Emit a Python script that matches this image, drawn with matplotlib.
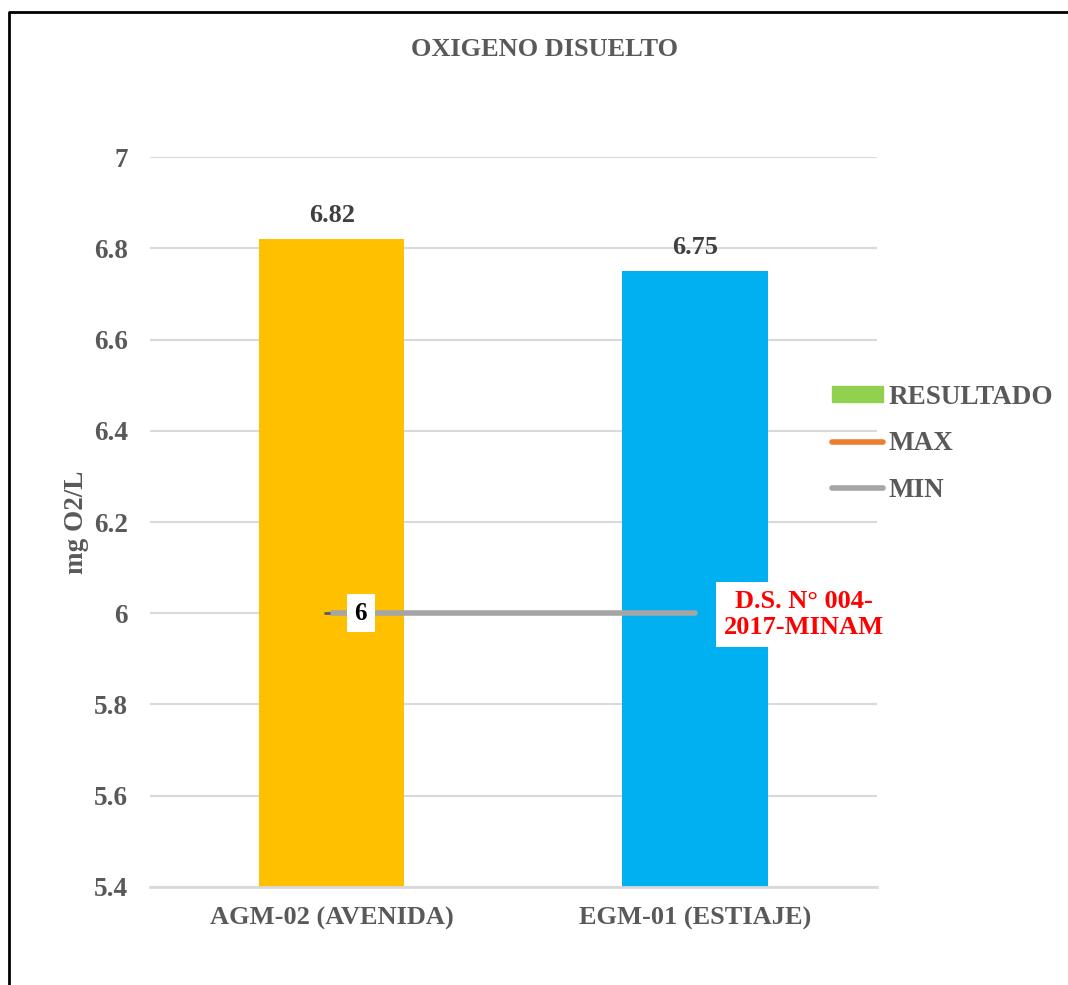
import matplotlib.pyplot as plt
from matplotlib.lines import Line2D
from matplotlib.patches import Patch

# Dissolved oxygen results by sampling point
stations = ['AGM-02 (AVENIDA)', 'EGM-01 (ESTIAJE)']
resultado = [6.82, 6.75]
bar_colors = ['#FFC000', '#00B0F0']
min_limit = [6, 6]
yticks = [5.4, 5.6, 5.8, 6, 6.2, 6.4, 6.6, 6.8, 7]

plt.rcParams['font.family'] = ['Liberation Serif', 'DejaVu Serif']

fig = plt.figure(figsize=(10.68, 9.85), dpi=100)
ax = fig.add_axes([0.1404, 0.0995, 0.6807, 0.7411])

x = range(len(stations))
bars = ax.bar(x, resultado, width=0.4, color=bar_colors, zorder=2)
for xi, v in zip(x, resultado):
    ax.annotate('%g' % v, (xi, v), xytext=(0, 9), textcoords='offset points',
                ha='center', va='bottom', fontsize=19, color='#404040',
                fontweight='bold')

# normative minimum line
ax.plot(x, min_limit, color='#A5A5A5', lw=4, solid_capstyle='round', zorder=3)
ax.plot([-0.012], [min_limit[0]], marker='_', color='#595959', ms=4, mew=2, zorder=3)
ax.annotate('6', (0, min_limit[0]), xytext=(21, 0), textcoords='offset points',
            ha='center', va='center', fontsize=18, color='black', zorder=4,
            fontweight='bold',
            bbox=dict(boxstyle='square,pad=0.3', fc='white', ec='none'))
ax.annotate('D.S. N\u00b0 004-\n2017-MINAM', (1, min_limit[1]), xytext=(78, -1),
            textcoords='offset points', ha='center', va='center', fontsize=19,
            color='#FF0000', zorder=4, linespacing=1.15, fontweight='bold',
            bbox=dict(boxstyle='square,pad=0.3', fc='white', ec='none'))

ax.set_xlim(-0.5, 1.5)
ax.set_ylim(5.4, 7)
ax.set_yticks(yticks)
ax.set_yticklabels(['%g' % t for t in yticks], fontweight='bold')
ax.set_xticks(list(x))
ax.set_xticklabels(stations, fontweight='bold')
ax.tick_params(length=0, labelsize=19.5, labelcolor='#595959')
ax.tick_params(axis='y', pad=16)
ax.tick_params(axis='x', labelsize=19, pad=14)
ax.grid(axis='y', color='#D9D9D9', lw=1.5, zorder=0)
ax.set_axisbelow(True)
for s in ['top', 'right', 'left']:
    ax.spines[s].set_visible(False)
ax.spines['bottom'].set_color('#D9D9D9')
ax.spines['bottom'].set_linewidth(2)

ax.set_ylabel('mg O2/L', fontsize=19.5, color='#595959', labelpad=3,
              fontweight='bold')
fig.text(0.51, 0.95, 'OXIGENO DISUELTO', ha='center', va='center',
         fontsize=19, color='#595959', fontweight='bold')

handles = [Patch(color='#92D050'),
           Line2D([], [], color='#ED7D31', lw=4, solid_capstyle='round'),
           Line2D([], [], color='#A5A5A5', lw=4, solid_capstyle='round')]
fig.legend(handles, ['RESULTADO', 'MAX', 'MIN'], loc='center left',
           bbox_to_anchor=(0.7558, 0.5495), frameon=False,
           prop={'size': 19.5, 'weight': 'bold'},
           labelcolor='#595959', handlelength=1.9, handletextpad=0.22,
           labelspacing=0.8, handleheight=0.5)

# outer frame
fig.add_artist(Line2D([9 / 1068, 9 / 1068, 1], [0, 1 - 12 / 985, 1 - 12 / 985],
                      transform=fig.transFigure, color='black', lw=2))

fig.savefig('out.png', dpi=100)
